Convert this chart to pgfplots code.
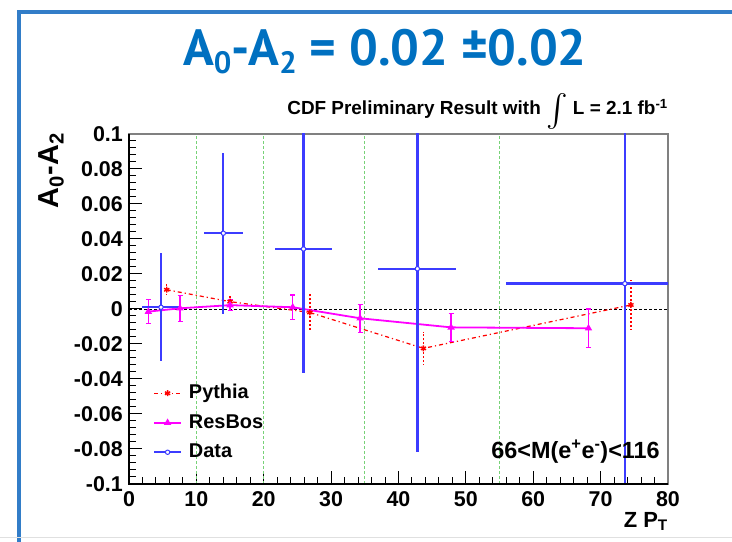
\documentclass[border=0pt]{standalone}
\usepackage{pgfplots}
\pgfplotsset{compat=1.18}
\usepackage{fontspec}
\setmainfont{Liberation Sans}
\newfontfamily\titlefont{PT Sans}
\definecolor{titleblue}{RGB}{0,112,192}
\definecolor{frameblue}{RGB}{50,125,200}
\definecolor{datablue}{RGB}{60,60,255}
\definecolor{gridgreen}{RGB}{120,210,120}
\definecolor{resmag}{RGB}{255,0,255}
\definecolor{pyred}{RGB}{255,0,0}

\begin{document}
\begin{tikzpicture}
\path[use as bounding box] (0,0) rectangle (732bp,542bp);
\clip (0,0) rectangle (732bp,542bp);
\draw[frameblue, line width=4bp] (19bp,-10bp) -- (19bp,530bp) -- (745bp,530bp);
\draw[black!12, line width=1bp] (0,4bp) -- (732bp,4bp);

\node[anchor=base, text=titleblue, inner sep=0, font=\titlefont\bfseries\fontsize{51}{51}\selectfont] at (385bp,476bp)
  {A\raisebox{-0.3ex}{\fontsize{31}{31}\selectfont 0}-A\raisebox{-0.3ex}{\fontsize{31}{31}\selectfont 2} = 0.02 ±0.02};

\node[anchor=base east, inner sep=0, font=\bfseries\fontsize{19}{19}\selectfont] at (668bp,427bp)
  {CDF Preliminary Result with \raisebox{-11bp}{\resizebox{!}{32bp}{$\int$}} L = 2.1 fb\textsuperscript{-1}};

\node[rotate=90, anchor=east, inner sep=0, font=\bfseries\fontsize{29}{29}\selectfont] at (51bp,409bp)
  {A\textsubscript{0}-A\textsubscript{2}};

\node[anchor=north east, inner sep=0, font=\bfseries\fontsize{22}{22}\selectfont] at (668bp,30bp)
  {Z P\textsubscript{T}};

\begin{axis}[
  name=ax,
  at={(129bp,58bp)}, anchor=south west, scale only axis,
  width=539bp, height=350bp,
  xmin=0, xmax=80, ymin=-0.1, ymax=0.1,
  xtick={0,10,20,30,40,50,60,70,80},
  xticklabels={0,10,20,30,40,50,60,70,80},
  ytick={-0.1,-0.08,-0.06,-0.04,-0.02,0,0.02,0.04,0.06,0.08,0.1},
  yticklabels={-0.1,-0.08,-0.06,-0.04,-0.02,0,0.02,0.04,0.06,0.08,0.1},
  minor x tick num=4, minor y tick num=4,
  tick align=inside, xtick pos=bottom, ytick pos=left,
  major tick length=13bp, minor tick length=7bp,
  tick style={black, line width=1bp},
  axis line style={black!50, line width=1.2bp},
  ticklabel style={font=\bfseries\fontsize{21.5}{21.5}\selectfont},
  yticklabel style={inner sep=0pt, xshift=-6bp},
  xticklabel style={inner sep=0pt, yshift=-7bp},
  legend style={at={(rel axis cs:0.0445,0.287)}, anchor=north west, draw=none, fill=none,
    inner sep=0pt, font=\bfseries\fontsize{20}{20}\selectfont,
    nodes={inner sep=0pt, text height=15bp, text depth=4bp},
    row sep=10.5bp, column sep=7bp},
  legend cell align=left,
  legend image code/.code={\draw[mark repeat=2,mark phase=2,#1] plot coordinates {(0bp,0bp)(13.5bp,0bp)(27bp,0bp)};},
]
\draw[gridgreen, dash pattern=on 2.5bp off 2.5bp, line width=0.9bp] (axis cs:10,-0.1) -- (axis cs:10,0.1);
\draw[gridgreen, dash pattern=on 2.5bp off 2.5bp, line width=0.9bp] (axis cs:20,-0.1) -- (axis cs:20,0.1);
\draw[gridgreen, dash pattern=on 2.5bp off 2.5bp, line width=0.9bp] (axis cs:35,-0.1) -- (axis cs:35,0.1);
\draw[gridgreen, dash pattern=on 2.5bp off 2.5bp, line width=0.9bp] (axis cs:55,-0.1) -- (axis cs:55,0.1);
\draw[black, dash pattern=on 3bp off 2bp, line width=0.9bp] (axis cs:0,0) -- (axis cs:80,0);

\addplot[pyred, dash pattern=on 4bp off 3bp on 1.2bp off 3bp, line width=1.2bp,
  mark=asterisk, mark size=3bp, mark options={solid, draw=pyred, line width=1.4bp},
  error bars/.cd, y dir=both, y explicit,
  error bar style={draw=pyred, dash pattern=on 2bp off 2bp, line width=1.5bp},
  error mark=none]
  table[x=x, y=y, y error=ey] {
x     y       ey
5.6   0.011   0.003
15.0  0.0042  0.0035
26.85 -0.002  0.0106
43.7  -0.0225 0.0095
74.5  0.0023  0.014
};
\addlegendentry{Pythia}

\addplot[resmag, line width=1.8bp, mark=triangle*, mark size=2.5bp, mark options={resmag},
  error bars/.cd, y dir=both, y explicit,
  error bar style={color=resmag, line width=1.2bp},
  error mark options={rotate=90, color=resmag, mark size=2.5bp, line width=1.2bp}]
  table[x=x, y=y, y error=ey] {
x     y        ey
2.87  -0.0015  0.0067
7.57  0.0004   0.0075
15.0  0.0022   0.003
24.3  0.001    0.007
34.3  -0.0053  0.008
47.8  -0.0105  0.008
68.2  -0.011   0.011
};
\addlegendentry{ResBos}

\addplot[datablue, only marks, mark=*, mark size=2.2bp,
  mark options={fill=white, draw=datablue, line width=1bp},
  legend image code/.code={\draw[datablue, line width=1.8bp] (0bp,0bp) -- (27bp,0bp); \draw[datablue, fill=white, line width=1bp] (13.5bp,0bp) circle (2.2bp);},
  error bars/.cd, x dir=both, x explicit, y dir=both, y explicit,
  error bar style={color=datablue, line width=2.3bp}, error mark=none]
  table[x=x, y=y, x error=ex, y error=ey] {
x     y       ex    ey
4.75  0.001   2.75  0.031
14.0  0.0433  2.9   0.046
25.9  0.0343  4.3   0.071
42.8  0.023   5.8   0.105
73.6  0.0145  17.7  0.2
};
\addlegendentry{Data}

\node[anchor=east, inner sep=0, font=\bfseries\fontsize{23.5}{23.5}\selectfont] at (axis cs:78.8,-0.0817)
  {66<M(e\textsuperscript{+}e\textsuperscript{-})<116};
\end{axis}
\draw[black, line width=1.6bp] (ax.north west) -- (ax.south west) -- (ax.south east);
\end{tikzpicture}
\end{document}
